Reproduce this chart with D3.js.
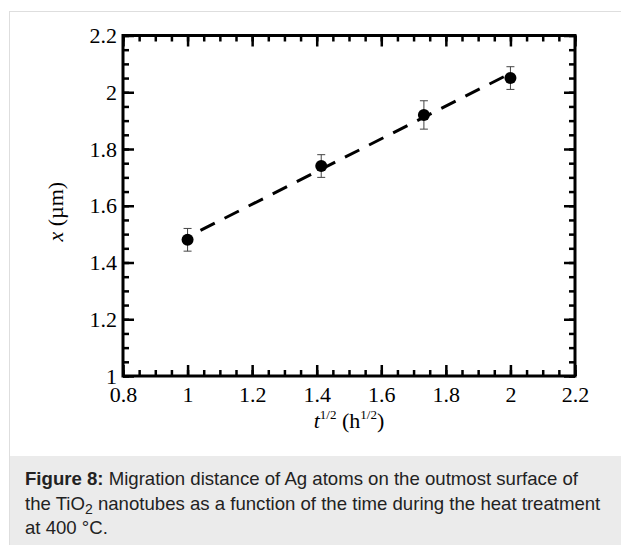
<!DOCTYPE html>
<html>
<head>
<meta charset="utf-8">
<script src="https://cdn.jsdelivr.net/npm/d3@7"></script>
<style>
  html, body { margin: 0; padding: 0; background: #fff; }
  svg { display: block; }
</style>
</head>
<body>
<div id="chart"></div>
<script>
// Данные
const tValues = [1, 1.414, 1.732, 2]          // t^1/2 (h^1/2)
const xValues = [1.48, 1.74, 1.92, 2.05]      // x (µm)
const xErrors = [0.04, 0.04, 0.05, 0.04]
const fitT = [1.04, 1.98]                      // концы штриховой линии
const fitX = [1.513, 2.055]
const xTicks = [0.8, 1, 1.2, 1.4, 1.6, 1.8, 2, 2.2]
const yTicks = [1, 1.2, 1.4, 1.6, 1.8, 2, 2.2]

const width = 621
const height = 545
const plot = { left: 123, right: 575, top: 35.5, bottom: 376 }
const serif = '"Liberation Serif", "Times New Roman", serif'
const sans = '"Liberation Sans", Arial, sans-serif'

const svg = d3.select('#chart')
  .append('svg')
  .attr('width', width)
  .attr('height', height)

// Рамка страницы и подпись
svg.append('rect')
  .attr('x', 9.5).attr('y', 11.5)
  .attr('width', width).attr('height', height)
  .attr('fill', '#fff')
  .attr('stroke', '#dedede')
svg.append('rect')
  .attr('x', 10).attr('y', 456)
  .attr('width', width - 10).attr('height', height - 456)
  .attr('fill', '#ebebeb')

const xScale = d3.scaleLinear().domain([0.8, 2.2]).range([plot.left, plot.right])
const yScale = d3.scaleLinear().domain([1, 2.2]).range([plot.bottom, plot.top])

const minorX = d3.range(0.8, 2.2001, 0.05)
const minorY = d3.range(1, 2.2001, 0.05)

function styleAxis(g) {
  g.select('.domain').remove()
  g.selectAll('line').attr('stroke', '#000').attr('stroke-width', 2.5)
  g.selectAll('text')
    .attr('fill', '#000')
    .style('font-family', serif)
    .style('font-size', '22px')
}

// Малые деления
svg.append('g').attr('transform', `translate(0,${plot.bottom})`)
  .call(d3.axisBottom(xScale).tickValues(minorX).tickSize(-6).tickFormat('')).call(styleAxis)
svg.append('g').attr('transform', `translate(0,${plot.top})`)
  .call(d3.axisTop(xScale).tickValues(minorX).tickSize(-6).tickFormat('')).call(styleAxis)
svg.append('g').attr('transform', `translate(${plot.left},0)`)
  .call(d3.axisLeft(yScale).tickValues(minorY).tickSize(-6).tickFormat('')).call(styleAxis)
svg.append('g').attr('transform', `translate(${plot.right},0)`)
  .call(d3.axisRight(yScale).tickValues(minorY).tickSize(-6).tickFormat('')).call(styleAxis)

// Большие деления с подписями
svg.append('g').attr('transform', `translate(0,${plot.bottom})`)
  .call(d3.axisBottom(xScale).tickValues(xTicks).tickSize(-11).tickPadding(10).tickFormat(d3.format('')))
  .call(styleAxis)
svg.append('g').attr('transform', `translate(0,${plot.top})`)
  .call(d3.axisTop(xScale).tickValues(xTicks).tickSize(-11).tickFormat('')).call(styleAxis)
svg.append('g').attr('transform', `translate(${plot.left},0)`)
  .call(d3.axisLeft(yScale).tickValues(yTicks).tickSize(-11).tickPadding(6).tickFormat(d3.format('')))
  .call(styleAxis)
svg.append('g').attr('transform', `translate(${plot.right},0)`)
  .call(d3.axisRight(yScale).tickValues(yTicks).tickSize(-11).tickFormat('')).call(styleAxis)

// Рамка графика
svg.append('rect')
  .attr('x', plot.left).attr('y', plot.top)
  .attr('width', plot.right - plot.left).attr('height', plot.bottom - plot.top)
  .attr('fill', 'none')
  .attr('stroke', '#000')
  .attr('stroke-width', 3)

// Штриховая линия
svg.append('path')
  .datum(fitT.map((t, i) => [t, fitX[i]]))
  .attr('fill', 'none')
  .attr('stroke', '#000')
  .attr('stroke-width', 3)
  .attr('stroke-dasharray', '16,11')
  .attr('d', d3.line().x(d => xScale(d[0])).y(d => yScale(d[1])))

const points = tValues.map((t, i) => ({ t, x: xValues[i], e: xErrors[i] }))

// Погрешности
const err = svg.append('g').attr('stroke', '#444').attr('stroke-width', 1)
points.forEach(d => {
  const cx = xScale(d.t)
  err.append('line').attr('x1', cx).attr('x2', cx)
    .attr('y1', yScale(d.x - d.e)).attr('y2', yScale(d.x + d.e))
  ;[d.x - d.e, d.x + d.e].forEach(v => {
    err.append('line').attr('x1', cx - 4).attr('x2', cx + 4)
      .attr('y1', yScale(v)).attr('y2', yScale(v))
  })
})

// Точки
svg.selectAll('.dot')
  .data(points)
  .enter()
  .append('circle')
  .attr('class', 'dot')
  .attr('cx', d => xScale(d.t))
  .attr('cy', d => yScale(d.x))
  .attr('r', 6)
  .attr('fill', '#000')

// Подписи осей
const xl = svg.append('text')
  .attr('x', (plot.left + plot.right) / 2)
  .attr('y', 428)
  .attr('text-anchor', 'middle')
  .style('font-family', serif)
  .style('font-size', '22px')
xl.append('tspan').style('font-style', 'italic').text('t')
xl.append('tspan').attr('dy', -9).style('font-size', '13px').text('1/2')
xl.append('tspan').attr('dy', 9).text(' (h')
xl.append('tspan').attr('dy', -9).style('font-size', '13px').text('1/2')
xl.append('tspan').attr('dy', 9).text(')')

const yl = svg.append('text')
  .attr('transform', `translate(63,${(plot.top + plot.bottom) / 2 + 6}) rotate(-90)`)
  .attr('text-anchor', 'middle')
  .style('font-family', serif)
  .style('font-size', '22px')
yl.append('tspan').style('font-style', 'italic').text('x')
yl.append('tspan').text(' (µm)')

// Подпись рисунка
const cap = svg.append('g')
  .style('font-family', sans)
  .style('font-size', '18.6px')
  .attr('fill', '#222')
const l1 = cap.append('text').attr('x', 25).attr('y', 485)
l1.append('tspan').style('font-weight', 'bold').text('Figure 8:')
l1.append('tspan').text(' Migration distance of Ag atoms on the outmost surface of')
const l2 = cap.append('text').attr('x', 25).attr('y', 509.5)
l2.append('tspan').text('the TiO')
l2.append('tspan').attr('dy', 4).style('font-size', '14px').text('2')
l2.append('tspan').attr('dy', -4).text(' nanotubes as a function of the time during the heat treatment')
cap.append('text').attr('x', 25).attr('y', 534).text('at 400 °C.')
</script>
</body>
</html>
